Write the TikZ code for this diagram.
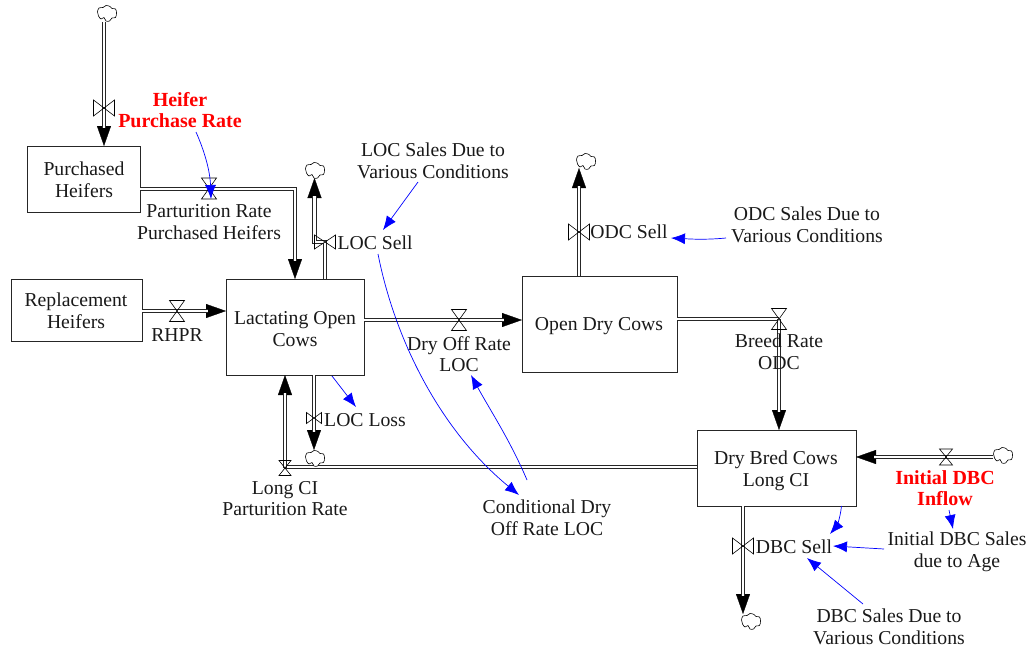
\documentclass[tikz,border=0pt]{standalone}
\usepackage{fontspec}
\setmainfont{Liberation Serif}
\usetikzlibrary{arrows.meta}
\tikzset{
  stock/.style={draw=black!85,line width=.9pt,fill=white,inner sep=0pt,align=center},
  label/.style={inner sep=0pt,align=center,text=black!90,font=\fontsize{19.7}{21.6}\selectfont},
  redlabel/.style={label,text=red,font=\fontsize{20}{21.6}\selectfont\bfseries},
  puff/.style={inner sep=0pt,minimum width=20pt,minimum height=16pt},
  pipe/.style={double=white,draw=black!85,line width=.9pt,double distance=2.8pt,shorten >=#1},
  pipe/.default=0pt,
  head/.style={draw=black,line width=.3pt,-{Triangle[length=20pt,width=14pt]}},
  link/.style={draw=blue,line width=.7pt,-{Latex[length=14pt,width=11pt]}},
  pics/bowtie/.style n args={2}{code={\draw[line width=.6pt] (-#1,-#2)--(-#1,#2)--(#1,-#2)--(#1,#2)--cycle;}},
  pics/hourglass/.style n args={2}{code={\draw[line width=.6pt] (-#1,-#2)--(#1,-#2)--(-#1,#2)--(#1,#2)--cycle;}},
  pics/blob/.style={code={\draw[line width=.6pt,fill=white] plot[smooth cycle,tension=.6] coordinates {(-9.5,-2) (-8,-6) (-4,-6.5) (-1,-8.5) (3,-7.5) (5,-5.5) (8.5,-5) (9.5,-1) (8.5,3.5) (5,4) (2.5,7) (-1,7) (-3,3.5) (-6,5) (-8.5,2)};}},
}
\begin{document}
\begin{tikzpicture}[x=1pt,y=-1pt]
\path[use as bounding box] (0,0) rectangle (1028,651);
% stocks
\node[stock,minimum width=113pt,minimum height=66pt] (ph) at (83.5,179) {};
\node[stock,minimum width=131pt,minimum height=62pt] (rh) at (76.5,310) {};
\node[stock,minimum width=138pt,minimum height=96pt] (loc) at (295,327) {};
\node[stock,minimum width=155pt,minimum height=96pt] (odc) at (599.5,324) {};
\node[stock,minimum width=159pt,minimum height=76pt] (dbc) at (776.5,468) {};
% clouds
\node[puff] (c1) at (107,14) {};
\node[puff] (c2) at (315,171) {};
\node[puff] (c3) at (586,162) {};
\node[puff] (c4) at (315,459) {};
\node[puff] (c5) at (1003,456) {};
\node[puff] (c6) at (751,622) {};
% valve positions and corners
\coordinate (v1) at (104,108);
\coordinate (v2) at (209,188.5);
\coordinate (v3) at (325,242);
\coordinate (v4) at (177,311);
\coordinate (v5) at (459,320);
\coordinate (v6) at (579,232);
\coordinate (v7) at (779,319);
\coordinate (v8) at (946,457);
\coordinate (v9) at (743,546);
\coordinate (v10) at (314,418);
\coordinate (v11) at (285,468);
\coordinate (k1) at (295,189);
\coordinate (k2) at (314.5,242);
% arrowheads
\draw[head] (v1) -- (104,146);
\draw[head] (k1) -- (295,279);
\draw[head] (k2) -- (314.5,178);
\draw[head] (v4) -- (226,311);
\draw[head] (v5) -- (522,320);
\draw[head] (v6) -- (579,168);
\draw[head] (v7) -- (779,430);
\draw[head] (v8) -- (856,457);
\draw[head] (v9) -- (743,614);
\draw[head] (v10) -- (314,450);
\draw[head] (v11) -- (285,375);
% pipes
\draw[pipe=18pt] (104,22) -- (104,146);
\draw[pipe=18pt] (ph.east |- k1) -- (k1) -- (295,279);
\draw[pipe=18pt] (v3 |- loc.north) -- (v3) -- (k2) -- (314.5,178);
\draw[pipe=18pt] (rh.east |- v4) -- (226,311);
\draw[pipe=18pt] (loc.east |- v5) -- (522,320);
\draw[pipe=18pt] (v6 |- odc.north) -- (579,168);
\draw[pipe] (odc.east |- v7) -- (v7);
\draw[pipe=18pt] (v7) -- (779,430);
\draw[pipe=18pt] (c5.west |- v8) -- (856,457);
\draw[pipe=18pt] (v9 |- dbc.south) -- (743,614);
\draw[pipe=18pt] (v10 |- loc.south) -- (314,450);
\draw[pipe] (dbc.west |- 0,467) -- (285,467);
\draw[pipe=18pt] (v11) -- (285,375);
% cloud outlines
\pic at (c1) {blob};
\pic at (c2) {blob};
\pic at (c3) {blob};
\pic at (c4) {blob};
\pic at (c5) {blob};
\pic at (c6) {blob};
% valves
\pic at (v1) {bowtie={10.5}{8}};
\pic at (v2) {hourglass={7.5}{10.5}};
\pic at (v3) {bowtie={10.5}{7}};
\pic at (v4) {hourglass={7.5}{10.5}};
\pic at (v5) {hourglass={7.5}{10.5}};
\pic at (v6) {bowtie={10.5}{8}};
\pic at (v7) {hourglass={7.5}{10.5}};
\pic at (v8) {hourglass={6.5}{8}};
\pic at (v9) {bowtie={10.5}{8}};
\pic at (v10) {bowtie={7.5}{5.5}};
\pic at (v11) {hourglass={6}{7.5}};
% labels
\node[label] (tph) at (84,180) {Purchased\\Heifers};
\node[label] (trh) at (76,310.5) {Replacement\\Heifers};
\node[label] (tloc) at (295,329) {Lactating Open\\Cows};
\node[label] (todc) at (599,326) {Open Dry Cows};
\node[label] (tdbc) at (776,470.5) {Dry Bred Cows\\Long CI};
\node[redlabel] (hpr) at (180,110) {Heifer\\Purchase Rate};
\node[label] (prph) at (209,222) {Parturition Rate\\Purchased Heifers};
\node[label] (lsd) at (433,161) {LOC Sales Due to\\Various Conditions};
\node[label] (lsell) at (375,243) {LOC Sell};
\node[label] (osell) at (629,232) {ODC Sell};
\node[label] (osd) at (807,225) {ODC Sales Due to\\Various Conditions};
\node[label] (rhpr) at (177,335) {RHPR};
\node[label] (dor) at (459,354) {Dry Off Rate\\LOC};
\node[label] (brodc) at (779,352) {Breed Rate\\ODC};
\node[label] (lloss) at (365,420) {LOC Loss};
\node[label] (lcpr) at (285,498.5) {Long CI\\Parturition Rate};
\node[label] (cdor) at (547,518) {Conditional Dry\\Off Rate LOC};
\node[redlabel] (idi) at (945,488) {Initial DBC\\Inflow};
\node[label] (ids) at (957,552) {Initial DBC Sales\\due to Age};
\node[label] (dsell) at (794,546.5) {DBC Sell};
\node[label] (dsd) at (889,627) {DBC Sales Due to\\Various Conditions};
% links
\draw[link] ([shift={(16,22)}]hpr.center) .. controls (204,150) and (210,170) .. ([shift={(2,10.5)}]v2);
\draw[link] ([shift={(-15,21)}]lsd.center) -- ([shift={(8,-13)}]lsell.center);
\draw[link] ([shift={(3,11)}]lsell.center) .. controls (395,340) and (440,430) .. ([shift={(-28,-23)}]cdor.center);
\draw[link] ([shift={(-20,-38)}]cdor.center) .. controls (510,440) and (490,410) .. ([shift={(12,21)}]dor.center);
\draw[link] ([shift={(37,49)}]loc.center) -- ([shift={(-9,-13)}]lloss.center);
\draw[link] ([shift={(-81,13)}]osd.center) .. controls (705,240) and (690,239) .. ([shift={(42,6)}]osell.center);
\draw[link] ([shift={(65,38)}]dbc.center) .. controls (840,520) and (836,527) .. ([shift={(36,-12.5)}]dsell.center);
\draw[link] ([shift={(4,22)}]idi.center) -- ([shift={(-4,-23)}]ids.center);
\draw[link] ([shift={(-73,-3)}]ids.center) -- ([shift={(39,-.5)}]dsell.center);
\draw[link] ([shift={(-26,-23)}]dsd.center) -- ([shift={(13,11.5)}]dsell.center);
\end{tikzpicture}
\end{document}
